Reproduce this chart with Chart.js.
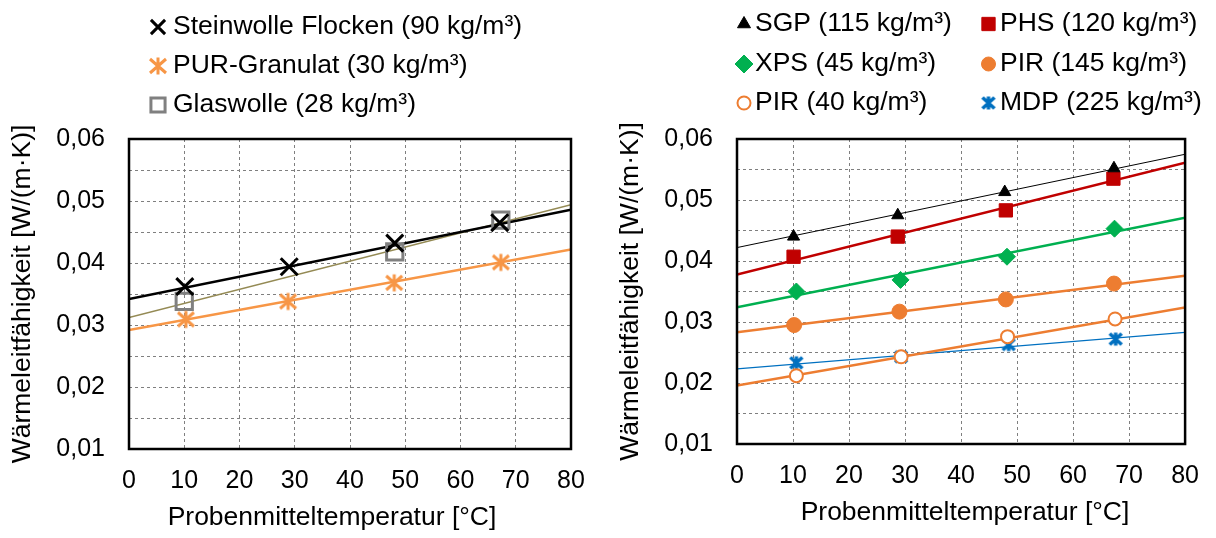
<!DOCTYPE html>
<html>
<head>
<meta charset="utf-8">
<script src="https://cdn.jsdelivr.net/npm/chart.js@4.4.1/dist/chart.umd.min.js"></script>
<style>
  html, body { margin: 0; padding: 0; background: #fff; }
  .box { position: absolute; top: 0; width: 608px; height: 538px; }
</style>
</head>
<body>
<div class="box" style="left:0"><canvas id="left" width="608" height="538"></canvas></div>
<div class="box" style="left:608px"><canvas id="right" width="608" height="538"></canvas></div>
<script>
const FONT = "'Liberation Sans', Arial, sans-serif";

// trend lines are drawn from x = 0 to x = 80
const trendX = [0, 80];

// left chart
const steinX = [10.1, 29.0, 48.1, 67.1];
const steinY = [0.0362, 0.0394, 0.0432, 0.0465];
const steinTrend = [0.0342, 0.0486];
const purX = [10.3, 28.8, 48.0, 67.3];
const purY = [0.0309, 0.0338, 0.0368, 0.0401];
const purTrend = [0.0292, 0.0422];
const glasX = [10.0, 48.1, 67.3];
const glasY = [0.0338, 0.0418, 0.0469];
const glasTrend = [0.0312, 0.0494];

// right chart
const sgpX = [10.1, 28.7, 47.8, 67.3];
const sgpY = [0.0440, 0.0475, 0.0513, 0.0552];
const sgpTrend = [0.0422, 0.0575];
const phsX = [10.1, 28.7, 48.0, 67.2];
const phsY = [0.0407, 0.0440, 0.0483, 0.0535];
const phsTrend = [0.0378, 0.0561];
const xpsX = [10.6, 29.2, 48.2, 67.4];
const xpsY = [0.0350, 0.0369, 0.0407, 0.0453];
const xpsTrend = [0.0324, 0.0471];
const pir145X = [10.2, 29.0, 48.0, 67.3];
const pir145Y = [0.0295, 0.0317, 0.0337, 0.0363];
const pir145Trend = [0.0283, 0.0376];
const pir40X = [10.6, 29.3, 48.3, 67.5];
const pir40Y = [0.0212, 0.0243, 0.0276, 0.0305];
const pir40Trend = [0.0196, 0.0324];
const mdpX = [10.6, 29.3, 48.5, 67.6];
const mdpY = [0.0233, 0.0243, 0.0263, 0.0272];
const mdpTrend = [0.0223, 0.0283];

const xTitle = 'Probenmitteltemperatur [°C]';
const yTitle = 'Wärmeleitfähigkeit [W/(m·K)]';

function pts(xs, ys) {
  return xs.map((x, i) => ({ x: x, y: ys[i] }));
}

// Excel style star marker: an X with a vertical bar
function starMarker(color, dx, dy, dv, lw) {
  const c = document.createElement('canvas');
  const half = Math.ceil(Math.max(dx, dv) + lw);
  c.width = c.height = half * 2;
  const g = c.getContext('2d');
  g.strokeStyle = color;
  g.lineWidth = lw;
  g.beginPath();
  g.moveTo(half - dx, half - dy); g.lineTo(half + dx, half + dy);
  g.moveTo(half + dx, half - dy); g.lineTo(half - dx, half + dy);
  g.moveTo(half, half - dv); g.lineTo(half, half + dv);
  g.stroke();
  return c;
}

function markers(label, xs, ys, style, color, fill, r, bw, legendR) {
  return {
    type: 'scatter', label: label, data: pts(xs, ys), showLine: false,
    pointStyle: style, pointRadius: r, pointHoverRadius: r,
    pointBorderColor: color, pointBackgroundColor: fill, pointBorderWidth: bw,
    borderColor: color, backgroundColor: fill, legendR: legendR
  };
}

function trend(vals, color, width) {
  return {
    type: 'line', label: '', isTrend: true, data: pts(trendX, vals),
    borderColor: color, borderWidth: width, pointRadius: 0, fill: false, tension: 0
  };
}

// plot frame drawn round the whole chart area
const framePlugin = {
  id: 'frame',
  afterDatasetsDraw(chart) {
    const a = chart.chartArea, ctx = chart.ctx;
    ctx.save();
    ctx.strokeStyle = '#000';
    ctx.lineWidth = 2.5;
    ctx.strokeRect(a.left, a.top, a.right - a.left, a.bottom - a.top);
    ctx.restore();
  }
};

// legend with the markers of the scatter sets, placed in slots; x axis title
const markerLegend = {
  id: 'markerLegend',
  afterDraw(chart, args, opts) {
    const ctx = chart.ctx;
    const sets = chart.data.datasets.filter(d => !d.isTrend);
    ctx.save();
    ctx.font = '26.5px ' + FONT;
    ctx.textBaseline = 'middle';
    ctx.fillStyle = '#000';
    ctx.textAlign = 'center';
    ctx.fillText(xTitle, opts.xTitlePos[0], opts.xTitlePos[1]);
    ctx.textAlign = 'left';
    sets.forEach((ds, i) => {
      const s = opts.slots[i];
      ctx.fillStyle = '#000';
      ctx.fillText(ds.label, s[1], s[2]);
      ctx.save();
      ctx.strokeStyle = ds.pointBorderColor;
      ctx.fillStyle = ds.pointBackgroundColor;
      ctx.lineWidth = ds.pointBorderWidth;
      Chart.helpers.drawPoint(ctx, {
        pointStyle: ds.pointStyle, radius: ds.legendR, rotation: 0,
        borderWidth: ds.pointBorderWidth
      }, s[0], s[2]);
      ctx.restore();
    });
    ctx.restore();
  }
};

function yLabel(v) {
  const k = Math.round(v * 1000);
  return k % 10 === 0 ? (k / 1000).toFixed(2).replace('.', ',') : '';
}

function makeChart(id, datasets, slots, rightPad, xHeight, xTitlePos) {
  const tickFont = { family: FONT, size: 25, lineHeight: 1.2 };
  const titleFont = { family: FONT, size: 26.5, lineHeight: 1.2 };
  return new Chart(document.getElementById(id), {
    data: { datasets: datasets },
    options: {
      responsive: false,
      animation: false,
      layout: { padding: { top: 139, right: rightPad, bottom: 0, left: 0 } },
      plugins: {
        legend: { display: false },
        tooltip: { enabled: false },
        markerLegend: { slots: slots, xTitlePos: xTitlePos }
      },
      scales: {
        x: {
          type: 'linear', min: 0, max: 80,
          ticks: { stepSize: 10, padding: 17, color: '#000', font: tickFont },
          grid: { color: '#7f7f7f', lineWidth: 1, drawTicks: false },
          border: { display: false, dash: [3, 3] },
          afterFit: s => { s.height = xHeight; }
        },
        y: {
          type: 'linear', min: 0.01, max: 0.06,
          ticks: { stepSize: 0.005, padding: 24, color: '#000', font: tickFont, autoSkip: false, callback: yLabel },
          grid: { color: '#7f7f7f', lineWidth: 1, drawTicks: false },
          border: { display: false, dash: [3, 3] },
          title: {
            display: true, text: yTitle, color: '#000',
            font: titleFont, padding: { top: 7, bottom: 0 }
          },
          afterFit: s => { s.width = 129; }
        }
      }
    },
    plugins: [framePlugin, markerLegend]
  });
}

makeChart('left', [
  markers('Steinwolle Flocken (90 kg/m³)', steinX, steinY, 'crossRot', '#000000', '#000000', 12, 3, 10),
  markers('PUR-Granulat (30 kg/m³)', purX, purY, starMarker('#f79646', 8, 7, 8.5, 3), '#f79646', '#f79646', 9, 3, 8),
  markers('Glaswolle (28 kg/m³)', glasX, glasY, 'rect', '#808080', 'rgba(0,0,0,0)', 11.5, 3, 10),
  trend(steinTrend, '#000000', 2.5),
  trend(purTrend, '#f79646', 2.5),
  trend(glasTrend, '#948a54', 1.5)
], [[158, 173, 27], [158, 173, 66], [158, 173, 105]], 37, 89, [332, 518]);

makeChart('right', [
  markers('SGP (115 kg/m³)', sgpX, sgpY, 'triangle', '#000000', '#000000', 7, 1, 7.5),
  markers('PHS (120 kg/m³)', phsX, phsY, 'rect', '#c00000', '#c00000', 9.4, 1, 9.4),
  markers('XPS (45 kg/m³)', xpsX, xpsY, 'rectRot', '#00b050', '#00b050', 8.5, 1, 9),
  markers('PIR (145 kg/m³)', pir145X, pir145Y, 'circle', '#ed7d31', '#ed7d31', 7.5, 1, 7),
  markers('PIR (40 kg/m³)', pir40X, pir40Y, 'circle', '#ed7d31', '#ffffff', 6.5, 2, 6.5),
  markers('MDP (225 kg/m³)', mdpX, mdpY, starMarker('#0070c0', 6, 5.5, 6.5, 3.5), '#0070c0', '#0070c0', 7.5, 3.5, 7),
  trend(sgpTrend, '#000000', 1),
  trend(phsTrend, '#c00000', 2.5),
  trend(xpsTrend, '#00b050', 2.5),
  trend(pir145Trend, '#ed7d31', 2.5),
  trend(pir40Trend, '#ed7d31', 2.5),
  trend(mdpTrend, '#0070c0', 1.2)
], [[136, 147, 24], [380.5, 392, 24], [136, 147, 64], [380.5, 392, 64], [136, 147, 103], [380.5, 392, 103]], 23, 94, [357, 513]);
</script>
</body>
</html>
